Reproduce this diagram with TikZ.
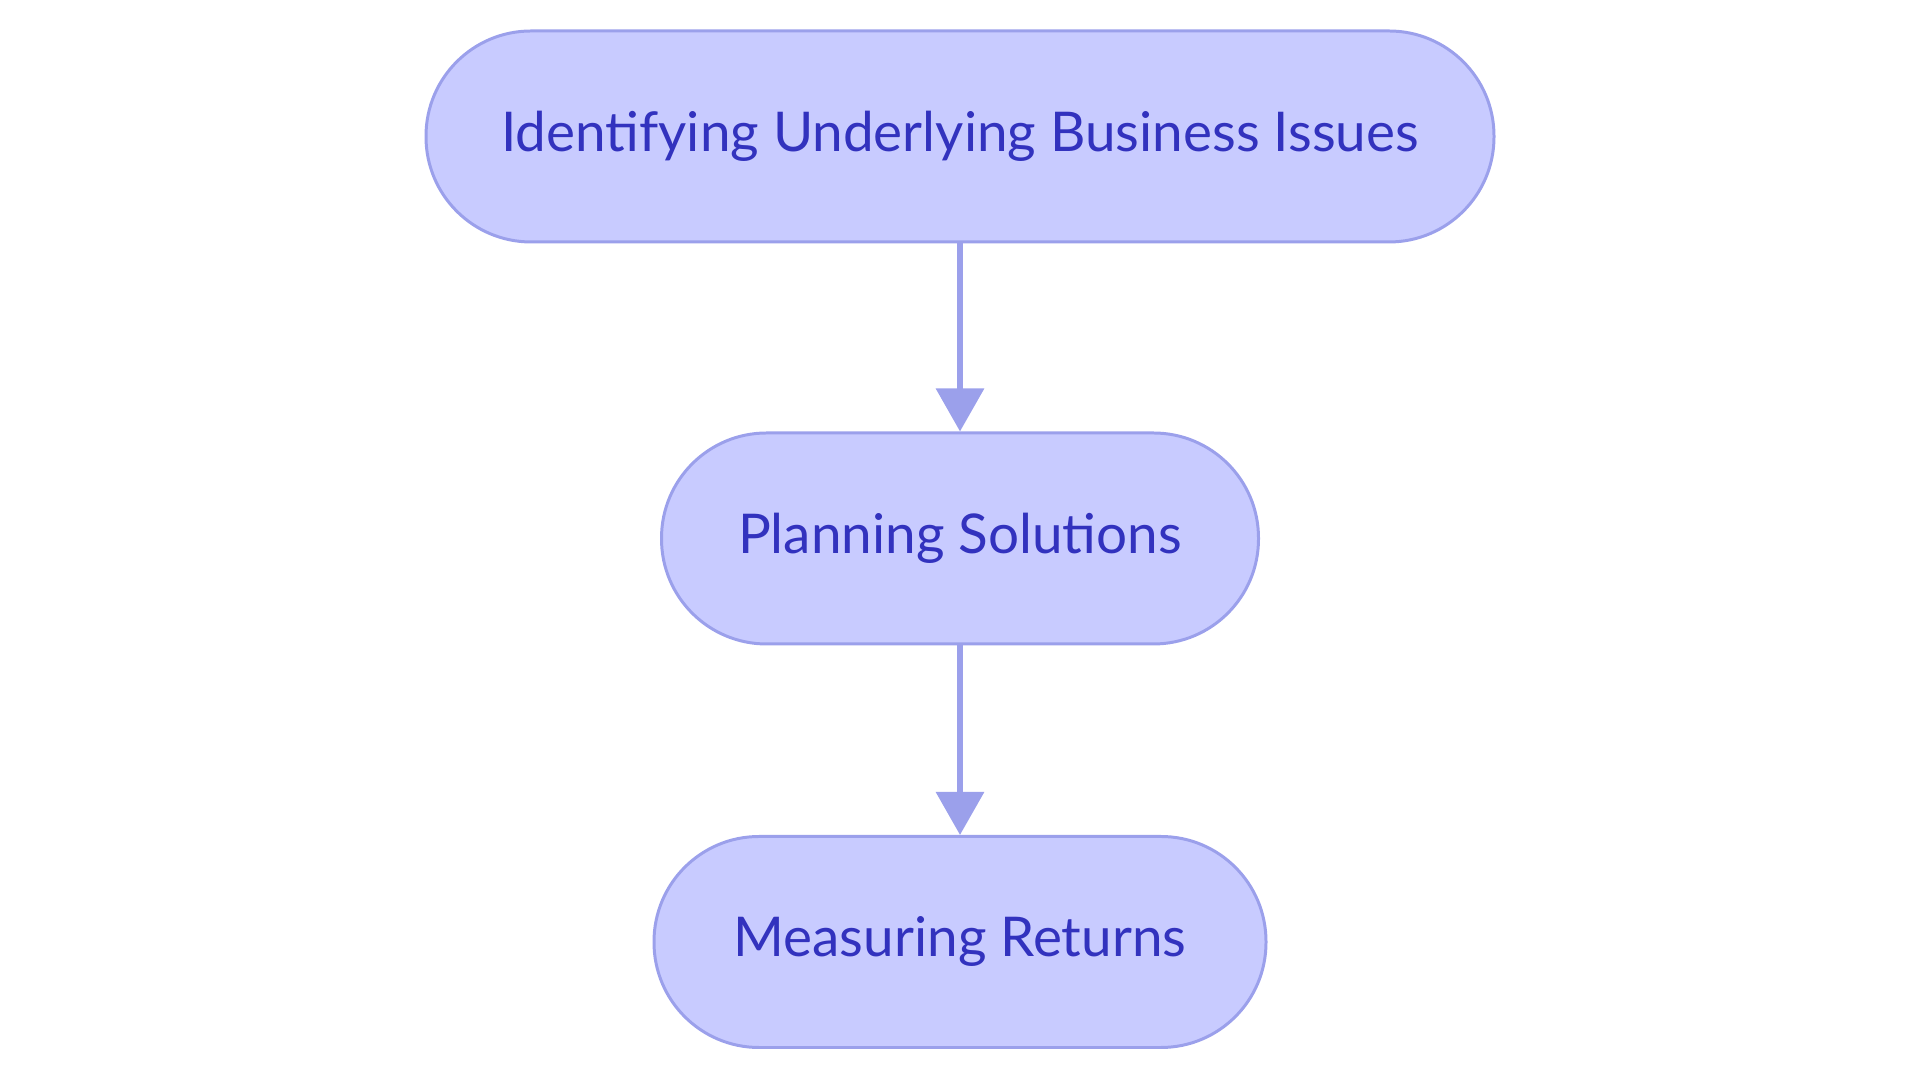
\documentclass[tikz,border=0pt]{standalone}
\usepackage{fontspec}
\setmainfont{Lato}
\usetikzlibrary{shapes, arrows.meta}
\usepackage{xcolor}
\definecolor{boxfill}{RGB}{200,203,255}
\definecolor{boxline}{RGB}{155,160,235}
\definecolor{boxtext}{RGB}{50,50,190}

\begin{document}
\begin{tikzpicture}
		\tikzstyle{terminator} = [rectangle, draw=boxline, fill=boxfill, line width=1.7pt, text=boxtext, text centered, rounded corners=2.1cm, minimum height=4.22cm, font=\fontsize{31.2}{37}\selectfont]
		\tikzstyle{connector} = [draw=boxline, line width=3.6pt, -{Triangle[width=0.94cm,length=0.86cm]}]
		\useasboundingbox (0,0) rectangle (38.4,21.66);
		\node [terminator, minimum width=21.36cm] at (19.2,18.93) (issues) {Identifying Underlying Business Issues};
		\node [terminator, minimum width=11.94cm] at (19.2,10.89) (plan) {Planning Solutions};
		\node [terminator, minimum width=12.24cm] at (19.2,2.82) (returns) {Measuring Returns};
		\path [connector] (issues) -- (plan);
		\path [connector] (plan) -- (returns);
	\end{tikzpicture}
\end{document}
